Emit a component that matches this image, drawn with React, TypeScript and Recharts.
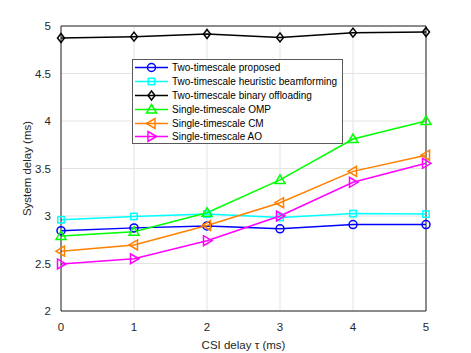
import React from "react";
import {
  LineChart,
  Line,
  XAxis,
  YAxis,
  CartesianGrid,
  ReferenceLine,
  Label,
} from "recharts";

const csiDelay = [0, 1, 2, 3, 4, 5];
const proposed = [2.845, 2.875, 2.895, 2.865, 2.91, 2.91];
const heuristicBf = [2.96, 2.995, 3.02, 2.985, 3.025, 3.02];
const binaryOffload = [4.874, 4.888, 4.916, 4.88, 4.93, 4.937];
const singleOmp = [2.79, 2.835, 3.035, 3.38, 3.81, 4.0];
const singleCm = [2.63, 2.695, 2.9, 3.14, 3.47, 3.64];
const singleAo = [2.495, 2.55, 2.74, 3.0, 3.355, 3.555];
const yTicks = [2, 2.5, 3, 3.5, 4, 4.5, 5];

const FONT = "'Liberation Sans', Arial, Helvetica, sans-serif";
const AXIS = "#262626";

type Shape = "circle" | "square" | "diamond" | "up" | "left" | "right";

const SERIES: { key: string; name: string; color: string; shape: Shape }[] = [
  { key: "proposed", name: "Two-timescale proposed", color: "#0000ff", shape: "circle" },
  { key: "heuristic", name: "Two-timescale heuristic beamforming", color: "#00ffff", shape: "square" },
  { key: "binary", name: "Two-timescale binary offloading", color: "#000000", shape: "diamond" },
  { key: "omp", name: "Single-timescale OMP", color: "#00ff00", shape: "up" },
  { key: "cm", name: "Single-timescale CM", color: "#ff8000", shape: "left" },
  { key: "ao", name: "Single-timescale AO", color: "#ff00ff", shape: "right" },
];

const data = csiDelay.map((x, i) => ({
  x,
  proposed: proposed[i],
  heuristic: heuristicBf[i],
  binary: binaryOffload[i],
  omp: singleOmp[i],
  cm: singleCm[i],
  ao: singleAo[i],
}));

function marker(shape: Shape, cx: number, cy: number, color: string, key?: string | number) {
  const common = { fill: "none", stroke: color, strokeWidth: 1.5, key } as any;
  const r = 4;
  switch (shape) {
    case "circle":
      return <circle cx={cx} cy={cy} r={r} {...common} />;
    case "square":
      return <rect x={cx - 3.2} y={cy - 3.2} width={6.4} height={6.4} {...common} />;
    case "diamond":
      return <polygon points={`${cx},${cy - 4.5} ${cx + 3.5},${cy} ${cx},${cy + 4.5} ${cx - 3.5},${cy}`} {...common} />;
    case "up":
      return <polygon points={`${cx},${cy - 5} ${cx + 5},${cy + 3.5} ${cx - 5},${cy + 3.5}`} {...common} />;
    case "left":
      return <polygon points={`${cx - 5},${cy} ${cx + 3.5},${cy - 5} ${cx + 3.5},${cy + 5}`} {...common} />;
    case "right":
      return <polygon points={`${cx + 5},${cy} ${cx - 3.5},${cy - 5} ${cx - 3.5},${cy + 5}`} {...common} />;
  }
}

function LegendBox() {
  return (
    <div
      style={{
        position: "absolute",
        left: 132,
        top: 59,
        width: 211,
        height: 85,
        border: "1px solid #5a5a5a",
        background: "#fff",
        padding: "1px 0 0 0",
        fontFamily: FONT,
        fontSize: 10,
        color: "#000",
        boxSizing: "border-box",
      }}
    >
      {SERIES.map((s) => (
        <div key={s.key} style={{ display: "flex", alignItems: "center", height: 13.8 }}>
          <svg width={38} height={13} style={{ flex: "none" }}>
            <line x1={2} x2={35} y1={6.5} y2={6.5} stroke={s.color} strokeWidth={1.5} />
            {marker(s.shape, 18.5, 6.5, s.color)}
          </svg>
          <span style={{ whiteSpace: "nowrap", marginLeft: 1 }}>{s.name}</span>
        </div>
      ))}
    </div>
  );
}

export default function App() {
  return (
    <div style={{ position: "absolute", left: 0, top: 0, width: 471, height: 353, background: "#fff" }}>
      <LineChart
        width={471}
        height={353}
        data={data}
        margin={{ top: 26, right: 45, bottom: 0, left: 21 }}
      >
        <CartesianGrid stroke="#e3e3e3" strokeWidth={1} />
        <XAxis
          dataKey="x"
          type="number"
          domain={[0, 5]}
          ticks={csiDelay}
          stroke={AXIS}
          tickLine={false}
          tickMargin={6}
          height={42}
          tick={{ fontSize: 11.5, fill: AXIS, fontFamily: FONT }}
        >
          <Label
            value="CSI delay τ (ms)"
            position="insideBottom"
            offset={4}
            style={{ fontSize: 11.5, fill: AXIS, fontFamily: FONT }}
          />
        </XAxis>
        <YAxis
          type="number"
          domain={[2, 5]}
          ticks={yTicks}
          stroke={AXIS}
          tickLine={false}
          tickMargin={4}
          width={40}
          tick={{ fontSize: 11.5, fill: AXIS, fontFamily: FONT }}
        >
          <Label
            value="System delay (ms)"
            angle={-90}
            position="insideLeft"
            offset={6}
            style={{ fontSize: 11.5, fill: AXIS, fontFamily: FONT, textAnchor: "middle" }}
          />
        </YAxis>
        <ReferenceLine y={5} stroke={AXIS} />
        <ReferenceLine x={5} stroke={AXIS} />
        {SERIES.map((s) => (
          <Line
            key={s.key}
            dataKey={s.key}
            name={s.name}
            stroke={s.color}
            strokeWidth={1.5}
            isAnimationActive={false}
            dot={(p: any) => marker(s.shape, p.cx, p.cy, s.color, p.index)}
            activeDot={false}
          />
        ))}
      </LineChart>
      <LegendBox />
    </div>
  );
}
